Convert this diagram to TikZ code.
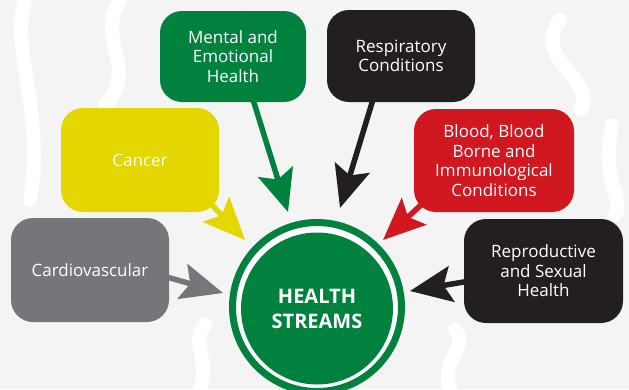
\documentclass[tikz,border=0pt]{standalone}
\usepackage{fontspec}
\setmainfont{Open Sans}
\usetikzlibrary{arrows.meta,calc}
\definecolor{hgreen}{RGB}{0,130,62}
\definecolor{hblack}{RGB}{35,31,32}
\definecolor{hyellow}{RGB}{228,215,0}
\definecolor{hred}{RGB}{209,23,31}
\definecolor{hgray}{RGB}{118,118,122}
\definecolor{hbg}{RGB}{244,244,244}
\pgfdeclarelayer{back}
\pgfsetlayers{back,main}
\tikzset{
  box/.style={rounded corners=22pt, inner sep=0pt, text=white, align=center,
    font=\fontsize{17}{19.5}\selectfont},
  arr/.style={line width=5.5pt, -{Stealth[length=42pt,width=36pt,inset=8pt]}},
  swirl/.style={white, line width=14pt, line cap=round}
}
\begin{document}
\begin{tikzpicture}[x=1pt,y=-1pt]
\useasboundingbox (0,0) rectangle (629,389);
% boxes
\node[box, fill=hgreen, minimum width=146pt, minimum height=91pt] (mental) at (233,56.5) {Mental and\\Emotional\\Health};
\node[box, fill=hblack, minimum width=148pt, minimum height=92pt] (resp) at (401,56) {Respiratory\\Conditions};
\node[box, fill=hyellow, minimum width=158pt, minimum height=104pt] (cancer) at (140,160) {Cancer};
\node[box, fill=hred, minimum width=160pt, minimum height=103pt] (blood) at (494,160.5) {Blood, Blood\\Borne and\\Immunological\\Conditions};
\node[box, fill=hgray, minimum width=158pt, minimum height=104pt] (cardio) at (90,270) {Cardiovascular};
\node[box, fill=hblack, minimum width=159pt, minimum height=104pt] (repro) at (543.5,271) {Reproductive\\and Sexual\\Health};
% central circle
\node[circle, draw=hgreen, line width=7pt, fill=white, minimum size=169pt, inner sep=0pt] (ring) at (317,307) {};
\node[circle, fill=hgreen, minimum size=152pt, inner sep=0pt, text=white, align=center,
  font=\fontsize{20}{25}\selectfont\bfseries] (hs) at (317,308.5) {HEALTH\\STREAMS};
% arrow tips
\coordinate (tG) at (288,212);
\coordinate (tR) at (340,208);
\coordinate (tY) at (245,240);
\coordinate (tB) at (383,240);
\coordinate (tC) at (223,293);
\coordinate (tP) at (410,291);
\begin{pgfonlayer}{back}
\fill[hbg] (0,0) rectangle (629,389);
\draw[swirl] (25,0) .. controls (10,50) and (45,110) .. (30,200);
\draw[swirl] (120,0) .. controls (95,40) and (140,70) .. (105,105);
\draw[swirl] (560,20) .. controls (530,60) and (600,80) .. (580,110);
\draw[swirl] (612,125) .. controls (600,180) and (625,200) .. (615,215);
\draw[swirl] (200,389) .. controls (210,360) and (190,340) .. (205,325);
\draw[swirl] (450,389) .. controls (440,360) and (470,345) .. (455,330);
\draw[arr, hgreen] ($(mental.south)+(19,-6)$) -- (tG);
\draw[arr, hblack] ($(resp.south)+(-27,-6)$) -- (tR);
\draw[arr, hyellow] ($(cancer.south east)+(-10,-10)$) -- (tY);
\draw[arr, hred] ($(blood.south west)+(8,-8)$) -- (tB);
\draw[arr, hgray] ($(cardio.east)+(-6,6)$) -- (tC);
\draw[arr, hblack] ($(repro.west)+(6,10)$) -- (tP);
\end{pgfonlayer}
\end{tikzpicture}
\end{document}
